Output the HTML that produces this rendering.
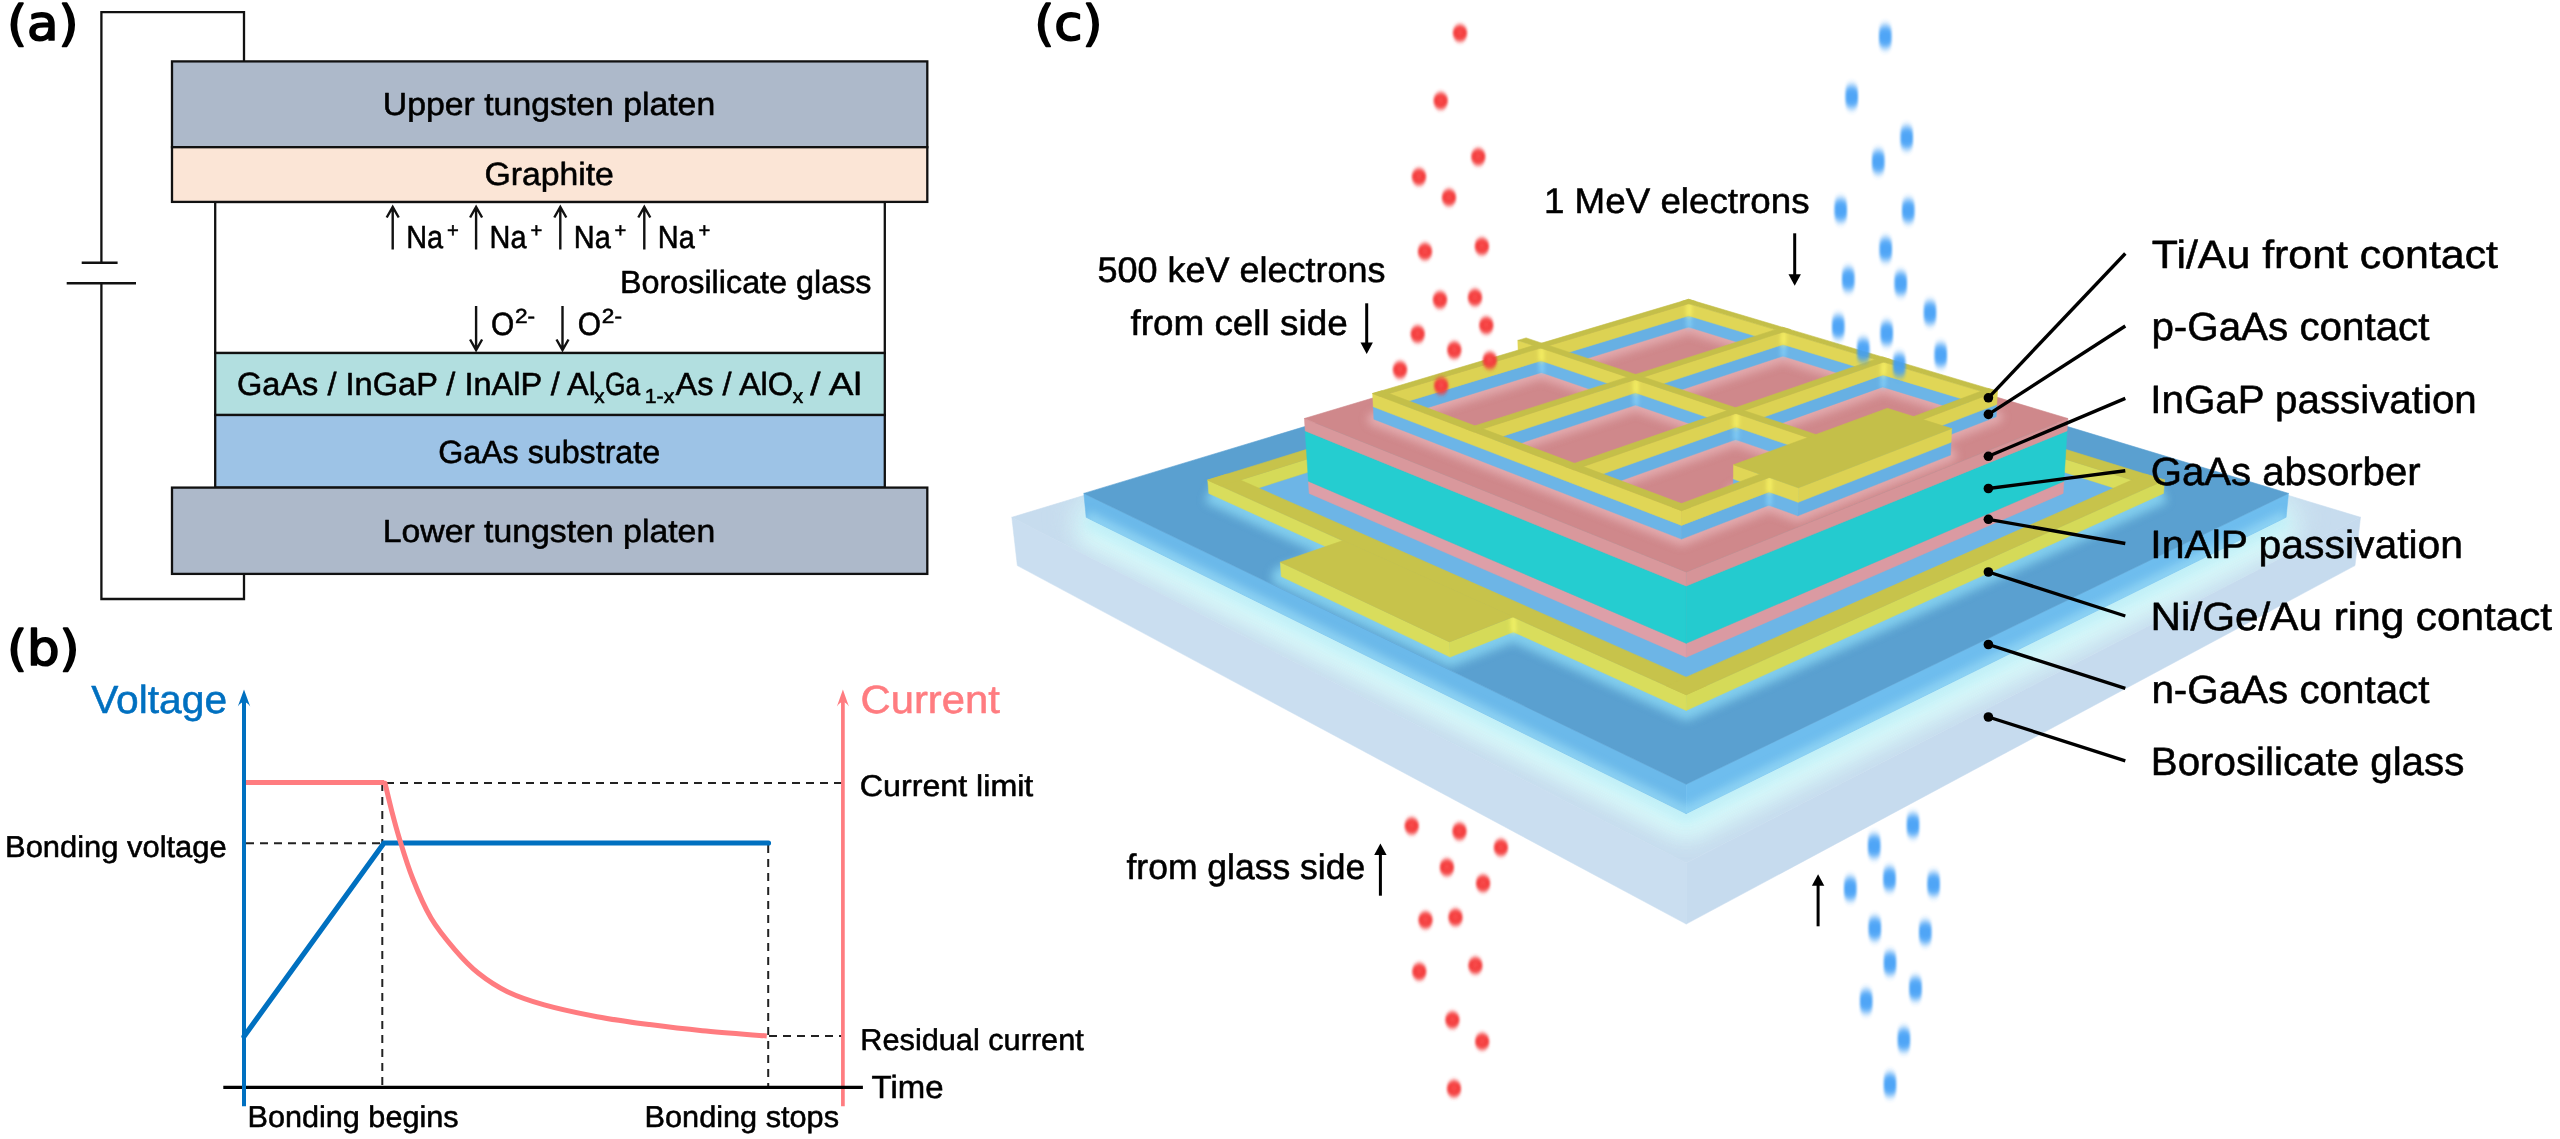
<!DOCTYPE html>
<html><head><meta charset="utf-8"><title>Figure</title>
<style>html,body{margin:0;padding:0;background:#fff}svg{display:block}text{text-rendering:geometricPrecision}</style></head>
<body><svg width="2560" height="1139" viewBox="0 0 2560 1139" style="will-change:transform">
<path d="M244,61 V12.2 H101.4 V262.7 M101.4,283.3 V599 H244 V574" fill="none" stroke="#111" stroke-width="2.3"/>
<path d="M81.7,262.7 H117.6 M66.7,283.3 H136" fill="none" stroke="#111" stroke-width="2.4"/>
<rect x="215.2" y="202" width="669.6" height="151" fill="#fff" stroke="#111" stroke-width="2.3"/>
<rect x="172" y="61.4" width="755.3" height="85.8" fill="#adb9ca" stroke="#111" stroke-width="2.3"/>
<rect x="172" y="147.2" width="755.3" height="54.7" fill="#fbe5d6" stroke="#111" stroke-width="2.3"/>
<rect x="215.2" y="353" width="669.6" height="62" fill="#b2dfe0" stroke="#111" stroke-width="2.3"/>
<rect x="215.2" y="415" width="669.6" height="72.6" fill="#9dc3e6" stroke="#111" stroke-width="2.3"/>
<rect x="172" y="487.6" width="755.3" height="86.3" fill="#adb9ca" stroke="#111" stroke-width="2.3"/>
<path d="M392.7,249.6 V207.5 M386.7,217.5 L392.7,207 L398.7,217.5" fill="none" stroke="#111" stroke-width="2.4"/>
<path d="M476.1,249.6 V207.5 M470.1,217.5 L476.1,207 L482.1,217.5" fill="none" stroke="#111" stroke-width="2.4"/>
<path d="M560.3,249.6 V207.5 M554.3,217.5 L560.3,207 L566.3,217.5" fill="none" stroke="#111" stroke-width="2.4"/>
<path d="M644.3,249.6 V207.5 M638.3,217.5 L644.3,207 L650.3,217.5" fill="none" stroke="#111" stroke-width="2.4"/>
<path d="M476.1,306 V349.5 M470.1,339.5 L476.1,350 L482.1,339.5" fill="none" stroke="#111" stroke-width="2.4"/>
<path d="M562.5,306 V349.5 M556.5,339.5 L562.5,350 L568.5,339.5" fill="none" stroke="#111" stroke-width="2.4"/>
<text transform="translate(6.93,40.20) scale(1.0604,1)" font-family="DejaVu Sans, sans-serif" font-size="48.50" font-weight="normal" fill="#000" stroke="#000" stroke-width="1.70" stroke-linejoin="round">(a)</text>
<text transform="translate(382.87,115.40) scale(1.0548,1)" font-family="Liberation Sans, sans-serif" font-size="32.03" font-weight="normal" fill="#000" stroke="#000" stroke-width="0.55" stroke-linejoin="round">Upper tungsten platen</text>
<text transform="translate(484.41,185.00) scale(1.0544,1)" font-family="Liberation Sans, sans-serif" font-size="32.03" font-weight="normal" fill="#000" stroke="#000" stroke-width="0.55" stroke-linejoin="round">Graphite</text>
<text transform="translate(620.01,293.00) scale(1.0094,1)" font-family="Liberation Sans, sans-serif" font-size="32.03" font-weight="normal" fill="#000" stroke="#000" stroke-width="0.55" stroke-linejoin="round">Borosilicate glass</text>
<text transform="translate(438.19,462.70) scale(1.0058,1)" font-family="Liberation Sans, sans-serif" font-size="32.03" font-weight="normal" fill="#000" stroke="#000" stroke-width="0.55" stroke-linejoin="round">GaAs substrate</text>
<text transform="translate(382.70,541.60) scale(1.0553,1)" font-family="Liberation Sans, sans-serif" font-size="32.03" font-weight="normal" fill="#000" stroke="#000" stroke-width="0.55" stroke-linejoin="round">Lower tungsten platen</text>
<text transform="translate(406.19,247.60) scale(0.9014,1)" font-family="Liberation Sans, sans-serif" font-size="32.03" font-weight="normal" fill="#000" stroke="#000" stroke-width="0.55" stroke-linejoin="round">Na</text>
<text transform="translate(446.99,237.00) scale(0.9959,1)" font-family="Liberation Sans, sans-serif" font-size="20.29" font-weight="normal" fill="#000" stroke="#000" stroke-width="0.55" stroke-linejoin="round">+</text>
<text transform="translate(489.59,247.60) scale(0.9014,1)" font-family="Liberation Sans, sans-serif" font-size="32.03" font-weight="normal" fill="#000" stroke="#000" stroke-width="0.55" stroke-linejoin="round">Na</text>
<text transform="translate(530.39,237.00) scale(0.9959,1)" font-family="Liberation Sans, sans-serif" font-size="20.29" font-weight="normal" fill="#000" stroke="#000" stroke-width="0.55" stroke-linejoin="round">+</text>
<text transform="translate(573.79,247.60) scale(0.9014,1)" font-family="Liberation Sans, sans-serif" font-size="32.03" font-weight="normal" fill="#000" stroke="#000" stroke-width="0.55" stroke-linejoin="round">Na</text>
<text transform="translate(614.59,237.00) scale(0.9959,1)" font-family="Liberation Sans, sans-serif" font-size="20.29" font-weight="normal" fill="#000" stroke="#000" stroke-width="0.55" stroke-linejoin="round">+</text>
<text transform="translate(657.79,247.60) scale(0.9014,1)" font-family="Liberation Sans, sans-serif" font-size="32.03" font-weight="normal" fill="#000" stroke="#000" stroke-width="0.55" stroke-linejoin="round">Na</text>
<text transform="translate(698.59,237.00) scale(0.9959,1)" font-family="Liberation Sans, sans-serif" font-size="20.29" font-weight="normal" fill="#000" stroke="#000" stroke-width="0.55" stroke-linejoin="round">+</text>
<text transform="translate(490.95,335.40) scale(0.9344,1)" font-family="Liberation Sans, sans-serif" font-size="32.03" font-weight="normal" fill="#000" stroke="#000" stroke-width="0.55" stroke-linejoin="round">O</text>
<text transform="translate(514.97,323.30) scale(1.1159,1)" font-family="Liberation Sans, sans-serif" font-size="20.29" font-weight="normal" fill="#000" stroke="#000" stroke-width="0.55" stroke-linejoin="round">2-</text>
<text transform="translate(577.85,335.40) scale(0.9344,1)" font-family="Liberation Sans, sans-serif" font-size="32.03" font-weight="normal" fill="#000" stroke="#000" stroke-width="0.55" stroke-linejoin="round">O</text>
<text transform="translate(601.87,323.30) scale(1.1159,1)" font-family="Liberation Sans, sans-serif" font-size="20.29" font-weight="normal" fill="#000" stroke="#000" stroke-width="0.55" stroke-linejoin="round">2-</text>
<text transform="translate(236.97,395.20) scale(1.0170,1)" font-family="Liberation Sans, sans-serif" font-size="32.03" font-weight="normal" fill="#000" stroke="#000" stroke-width="0.55" stroke-linejoin="round">GaAs / InGaP / InAlP / Al</text>
<text transform="translate(594.29,402.50) scale(1.0165,1)" font-family="Liberation Sans, sans-serif" font-size="20.29" font-weight="normal" fill="#000" stroke="#000" stroke-width="0.55" stroke-linejoin="round">x</text>
<text transform="translate(605.08,395.20) scale(0.8237,1)" font-family="Liberation Sans, sans-serif" font-size="32.03" font-weight="normal" fill="#000" stroke="#000" stroke-width="0.55" stroke-linejoin="round">Ga</text>
<text transform="translate(644.70,402.50) scale(1.0499,1)" font-family="Liberation Sans, sans-serif" font-size="20.29" font-weight="normal" fill="#000" stroke="#000" stroke-width="0.55" stroke-linejoin="round">1-x</text>
<text transform="translate(675.50,395.20) scale(1.0177,1)" font-family="Liberation Sans, sans-serif" font-size="32.03" font-weight="normal" fill="#000" stroke="#000" stroke-width="0.55" stroke-linejoin="round">As / AlO</text>
<text transform="translate(792.79,402.50) scale(1.0268,1)" font-family="Liberation Sans, sans-serif" font-size="20.29" font-weight="normal" fill="#000" stroke="#000" stroke-width="0.55" stroke-linejoin="round">x</text>
<text transform="translate(810.30,395.20) scale(1.1570,1)" font-family="Liberation Sans, sans-serif" font-size="32.03" font-weight="normal" fill="#000" stroke="#000" stroke-width="0.55" stroke-linejoin="round">/ Al</text>
<path d="M386,783 H842" stroke="#222" stroke-width="2" stroke-dasharray="8 6" fill="none"/>
<path d="M246,843.2 H384" stroke="#222" stroke-width="2" stroke-dasharray="8 6" fill="none"/>
<path d="M382.3,783 V1087" stroke="#222" stroke-width="2" stroke-dasharray="8 6" fill="none"/>
<path d="M768.2,845 V1087" stroke="#222" stroke-width="2" stroke-dasharray="8 6" fill="none"/>
<path d="M769,1036 H842" stroke="#222" stroke-width="2" stroke-dasharray="8 6" fill="none"/>
<path d="M842.9,1106.3 V700" stroke="#ff7c80" stroke-width="3.7" fill="none"/>
<path d="M842.9,689.5 L848.9,706.5 Q842.9,697.5 836.9,706.5 Z" fill="#ff7c80"/>
<path d="M223.3,1087.4 H862.9" stroke="#000" stroke-width="3.2" fill="none"/>
<path d="M244,1036.4 L384,843 H768.5" stroke="#0070c0" stroke-width="5.2" fill="none" stroke-linejoin="miter" stroke-linecap="round"/>
<path d="M244,782.5 H384" stroke="#ff7c80" stroke-width="5" fill="none"/>
<path d="M383,783 L385,783.2 C386.2,788.0 389.6,802.7 392.0,812.0 C394.4,821.3 396.1,827.9 399.5,839.0 C402.9,850.1 407.4,865.3 412.7,878.5 C417.9,891.7 424.0,906.1 431.0,918.0 C438.0,929.9 446.9,940.4 454.8,949.6 C462.7,958.8 469.7,966.3 478.5,973.3 C487.3,980.3 496.4,986.4 507.4,991.7 C518.4,997.0 529.4,1000.7 544.3,1004.9 C559.2,1009.1 579.5,1013.4 597.0,1016.7 C614.5,1020.0 632.1,1022.3 649.6,1024.6 C667.1,1026.9 682.8,1028.8 702.3,1030.7 C721.8,1032.6 756.0,1035.1 766.8,1036.0" stroke="#ff7c80" stroke-width="5" fill="none" stroke-linejoin="round" stroke-linecap="butt"/>
<path d="M244,1106.3 V700" stroke="#0070c0" stroke-width="4" fill="none"/>
<path d="M244,689.5 L250.2,706.5 Q244,697.5 237.8,706.5 Z" fill="#0070c0"/>
<text transform="translate(6.93,665.30) scale(1.0599,1)" font-family="DejaVu Sans, sans-serif" font-size="48.50" font-weight="normal" fill="#000" stroke="#000" stroke-width="1.70" stroke-linejoin="round">(b)</text>
<text transform="translate(91.20,713.40) scale(1.0371,1)" font-family="Liberation Sans, sans-serif" font-size="39.28" font-weight="normal" fill="#0070c0" stroke="#0070c0" stroke-width="0.55" stroke-linejoin="round">Voltage</text>
<text transform="translate(860.51,713.40) scale(1.0643,1)" font-family="Liberation Sans, sans-serif" font-size="39.28" font-weight="normal" fill="#ff7c80" stroke="#ff7c80" stroke-width="0.55" stroke-linejoin="round">Current</text>
<text transform="translate(5.03,856.50) scale(1.0300,1)" font-family="Liberation Sans, sans-serif" font-size="30.00" font-weight="normal" fill="#000" stroke="#000" stroke-width="0.55" stroke-linejoin="round">Bonding voltage</text>
<text transform="translate(859.79,795.70) scale(1.0732,1)" font-family="Liberation Sans, sans-serif" font-size="30.00" font-weight="normal" fill="#000" stroke="#000" stroke-width="0.55" stroke-linejoin="round">Current limit</text>
<text transform="translate(860.34,1049.80) scale(1.0229,1)" font-family="Liberation Sans, sans-serif" font-size="30.00" font-weight="normal" fill="#000" stroke="#000" stroke-width="0.55" stroke-linejoin="round">Residual current</text>
<text transform="translate(871.54,1098.10) scale(1.0280,1)" font-family="Liberation Sans, sans-serif" font-size="32.03" font-weight="normal" fill="#000" stroke="#000" stroke-width="0.55" stroke-linejoin="round">Time</text>
<text transform="translate(247.55,1126.70) scale(1.0202,1)" font-family="Liberation Sans, sans-serif" font-size="30.00" font-weight="normal" fill="#000" stroke="#000" stroke-width="0.55" stroke-linejoin="round">Bonding begins</text>
<text transform="translate(644.55,1126.70) scale(1.0228,1)" font-family="Liberation Sans, sans-serif" font-size="30.00" font-weight="normal" fill="#000" stroke="#000" stroke-width="0.55" stroke-linejoin="round">Bonding stops</text>
<defs><filter id="b2" x="-20%" y="-20%" width="140%" height="140%"><feGaussianBlur stdDeviation="2"/></filter><filter id="b3" x="-20%" y="-20%" width="140%" height="140%"><feGaussianBlur stdDeviation="3"/></filter><filter id="b4" x="-20%" y="-20%" width="140%" height="140%"><feGaussianBlur stdDeviation="4"/></filter><filter id="b5" x="-20%" y="-20%" width="140%" height="140%"><feGaussianBlur stdDeviation="5"/></filter><filter id="b6" x="-20%" y="-20%" width="140%" height="140%"><feGaussianBlur stdDeviation="6"/></filter><filter id="b7" x="-20%" y="-20%" width="140%" height="140%"><feGaussianBlur stdDeviation="7"/></filter><filter id="b8" x="-20%" y="-20%" width="140%" height="140%"><feGaussianBlur stdDeviation="8"/></filter><filter id="b9" x="-20%" y="-20%" width="140%" height="140%"><feGaussianBlur stdDeviation="9"/></filter><filter id="b10" x="-20%" y="-20%" width="140%" height="140%"><feGaussianBlur stdDeviation="10"/></filter><filter id="b11" x="-20%" y="-20%" width="140%" height="140%"><feGaussianBlur stdDeviation="11"/></filter><filter id="b12" x="-20%" y="-20%" width="140%" height="140%"><feGaussianBlur stdDeviation="12"/></filter><filter id="b13" x="-20%" y="-20%" width="140%" height="140%"><feGaussianBlur stdDeviation="13"/></filter></defs>
<polygon points="1011.8,517.3 1686.2,863.1 1686.2,924.1 1017.3,565.6" fill="#cadef0" stroke="#cadef0" stroke-width="0.5"/>
<polygon points="1686.2,863.1 2360.5,517.3 2355.0,565.6 1686.2,924.1" fill="#c6dbee" stroke="#c6dbee" stroke-width="0.5"/>
<polygon points="1011.8,517.3 1686.2,863.1 2360.5,517.3 1686.2,312.9" fill="#c7dcee" stroke="#c7dcee" stroke-width="0.6"/>
<clipPath id="cp1"><polygon points="1011.8,517.3 1686.2,863.1 2360.5,517.3 1686.2,312.9"/></clipPath><g clip-path="url(#cp1)"><g filter="url(#b12)" opacity="0.55"><polygon points="1086.2,517.3 1686.2,813.6 2286.1,517.3 1686.2,331.2" fill="none" stroke="#d6f3f8" stroke-width="40" stroke-linejoin="round"/></g><g filter="url(#b11)" opacity="0.95"><polyline points="1086.2,517.3 1686.2,813.6 2286.1,517.3" fill="none" stroke="#d9fafa" stroke-width="52" stroke-linejoin="round"/></g><g filter="url(#b6)" opacity="0.9"><polyline points="1086.2,517.3 1686.2,813.6 2286.1,517.3" fill="none" stroke="#bdeef7" stroke-width="20" stroke-linejoin="round"/></g></g>
<polygon points="1083.8,493.4 1686.2,784.2 1686.2,813.6 1086.2,517.3" fill="#6bb9ea" stroke="#6bb9ea" stroke-width="0.5"/>
<polygon points="1686.2,784.2 2288.5,493.4 2286.1,517.3 1686.2,813.6" fill="#6ebdee" stroke="#6ebdee" stroke-width="0.5"/>
<polygon points="1083.8,493.4 1686.2,784.2 2288.5,493.4 1686.2,311.2" fill="#5aa0d0" stroke="#5aa0d0" stroke-width="0.6"/>
<clipPath id="cp2"><polygon points="1083.8,493.4 1686.2,784.2 1686.2,813.6 1086.2,517.3"/><polygon points="1686.2,784.2 2288.5,493.4 2286.1,517.3 1686.2,813.6"/></clipPath><g clip-path="url(#cp2)"><g filter="url(#b4)" opacity="0.7"><polyline points="1086.2,517.3 1686.2,813.6 2286.1,517.3" fill="none" stroke="#9bdcf6" stroke-width="14" stroke-linejoin="round"/></g></g>
<clipPath id="cp3"><polygon points="1083.8,493.4 1686.2,784.2 2288.5,493.4 1686.2,311.2"/></clipPath><g clip-path="url(#cp3)"><polygon points="1241.3,493.4 1686.2,692.7 2131.0,493.4 1686.2,352.0" fill="#6db5e6" /><g filter="url(#b5)" opacity="0.95"><polyline points="1208.8,493.4 1343.6,554.7 1281.3,576.5 1450.2,657.1 1513.4,631.9 1686.2,710.5 2163.5,493.4" fill="none" stroke="#84d0ef" stroke-width="19" stroke-linejoin="round"/></g></g>
<polygon points="1686.2,340.3 2132.0,480.1 2131.0,493.4 1686.2,352.0" fill="#d9dd5c" stroke="#d9dd5c" stroke-width="0.5"/>
<polygon points="1240.3,480.1 1686.2,340.3 1686.2,352.0 1241.3,493.4" fill="#d5da58" stroke="#d5da58" stroke-width="0.5"/>
<polygon points="1207.7,480.1 1342.8,540.7 1343.6,554.7 1208.8,493.4" fill="#d9dd5c" stroke="#d9dd5c" stroke-width="0.5"/>
<polygon points="1686.2,694.7 2164.6,480.1 2163.5,493.4 1686.2,710.5" fill="#d5da58" stroke="#d5da58" stroke-width="0.5"/>
<polygon points="1280.3,562.2 1449.5,641.9 1450.2,657.1 1281.3,576.5" fill="#d9dd5c" stroke="#d9dd5c" stroke-width="0.5"/>
<polygon points="1449.5,641.9 1512.9,617.0 1513.4,631.9 1450.2,657.1" fill="#d5da58" stroke="#d5da58" stroke-width="0.5"/>
<polygon points="1512.9,617.0 1686.2,694.7 1686.2,710.5 1513.4,631.9" fill="#d9dd5c" stroke="#d9dd5c" stroke-width="0.5"/>
<g filter="url(#b2)" opacity="0.9"><path d="M1686.5,341.8 L1686.5,351.0" stroke="#f6f566" stroke-width="5" stroke-linecap="round" fill="none"/><path d="M1513.2,618.5 L1513.7,630.9" stroke="#f6f566" stroke-width="5" stroke-linecap="round" fill="none"/></g>
<polygon points="1207.7,480.1 1686.2,694.7 1705.9,685.9 1226.9,474.1" fill="#c7c34b" stroke="#c7c34b" stroke-width="0.6"/>
<polygon points="1672.3,335.9 2151.2,486.1 2164.6,480.1 1686.2,331.6" fill="#c7c34b" stroke="#c7c34b" stroke-width="0.6"/>
<polygon points="1207.7,480.1 1221.1,486.1 1700.0,335.9 1686.2,331.6" fill="#c7c34b" stroke="#c7c34b" stroke-width="0.6"/>
<polygon points="1666.4,685.9 1686.2,694.7 2164.6,480.1 2145.4,474.1" fill="#c7c34b" stroke="#c7c34b" stroke-width="0.6"/>
<polygon points="1280.3,562.2 1449.5,641.9 1513.3,616.8 1343.2,540.5" fill="#c7c34b" stroke="#c7c34b" stroke-width="0.6"/>
<polygon points="1308.4,481.2 1686.2,643.3 1686.2,657.2 1309.2,493.4" fill="#dd9fa8" stroke="#dd9fa8" stroke-width="0.5"/>
<polygon points="1686.2,643.3 2063.9,481.2 2063.1,493.4 1686.2,657.2" fill="#da9aa2" stroke="#da9aa2" stroke-width="0.5"/>
<polygon points="1308.4,481.2 1686.2,643.3 2063.9,481.2 1686.2,359.9" fill="#d9989f" stroke="#d9989f" stroke-width="0.6"/>
<polygon points="1305.2,430.9 1686.2,586.0 1686.2,643.3 1308.4,481.2" fill="#25cdd0" stroke="#25cdd0" stroke-width="0.5"/>
<polygon points="1686.2,586.0 2067.1,430.9 2063.9,481.2 1686.2,643.3" fill="#24cbcf" stroke="#24cbcf" stroke-width="0.5"/>
<polygon points="1305.2,430.9 1686.2,586.0 2067.1,430.9 1686.2,315.1" fill="#25cdd0" stroke="#25cdd0" stroke-width="0.6"/>
<polygon points="1304.4,418.5 1686.2,571.9 1686.2,586.0 1305.2,430.9" fill="#d9989c" stroke="#d9989c" stroke-width="0.5"/>
<polygon points="1686.2,571.9 2067.9,418.5 2067.1,430.9 1686.2,586.0" fill="#d69498" stroke="#d69498" stroke-width="0.5"/>
<polygon points="1304.4,418.5 1686.2,571.9 2067.9,418.5 1686.2,304.0" fill="#cf888b" stroke="#cf888b" stroke-width="0.6"/>
<clipPath id="cp4"><polygon points="1304.4,418.5 1686.2,571.9 2067.9,418.5 1686.2,304.0"/></clipPath><g clip-path="url(#cp4)"><g filter="url(#b4)" opacity="0.9"><polygon points="1373.9,419.2 1681.5,539.1 1690.8,535.5 1383.1,416.4" fill="none" stroke="#e4adb1" stroke-width="13" stroke-linejoin="round"/><polygon points="1681.2,324.8 1988.9,419.6 1996.2,416.8 1688.6,322.5" fill="none" stroke="#e4adb1" stroke-width="13" stroke-linejoin="round"/><polygon points="1373.9,419.2 1381.2,422.0 1696.0,324.8 1688.6,322.5" fill="none" stroke="#e4adb1" stroke-width="13" stroke-linejoin="round"/><polygon points="1672.2,535.5 1681.5,539.1 1996.2,416.8 1987.0,414.0" fill="none" stroke="#e4adb1" stroke-width="13" stroke-linejoin="round"/><polygon points="1466.7,455.4 1474.5,458.4 1790.2,353.7 1782.3,351.3" fill="none" stroke="#e4adb1" stroke-width="13" stroke-linejoin="round"/><polygon points="1565.8,494.0 1574.3,497.3 1890.0,384.3 1881.5,381.7" fill="none" stroke="#e4adb1" stroke-width="13" stroke-linejoin="round"/><polygon points="1518.5,364.7 1809.8,465.2 1818.1,462.0 1526.7,362.2" fill="none" stroke="#e4adb1" stroke-width="13" stroke-linejoin="round"/><polygon points="1733.3,492.2 1797.8,515.8 1950.5,455.1 1886.4,434.3" fill="none" stroke="#e4adb1" stroke-width="13" stroke-linejoin="round"/></g></g>
<polygon points="1688.6,315.8 1775.1,342.1 1774.9,353.7 1688.6,327.1" fill="#6cb5e7" stroke="#6cb5e7" stroke-width="0.5"/>
<polygon points="1549.3,358.2 1688.6,315.8 1688.6,327.1 1549.6,370.0" fill="#67b0e3" stroke="#67b0e3" stroke-width="0.5"/>
<polygon points="1518.2,353.0 1533.7,358.2 1534.0,370.0 1518.5,364.7" fill="#6cb5e7" stroke="#6cb5e7" stroke-width="0.5"/>
<polygon points="1783.0,344.5 1874.5,372.3 1874.1,384.3 1782.8,356.1" fill="#6cb5e7" stroke="#6cb5e7" stroke-width="0.5"/>
<polygon points="1643.6,390.1 1783.0,344.5 1782.8,356.1 1643.7,402.3" fill="#67b0e3" stroke="#67b0e3" stroke-width="0.5"/>
<polygon points="1541.1,360.8 1627.4,390.1 1627.6,402.3 1541.4,372.5" fill="#6cb5e7" stroke="#6cb5e7" stroke-width="0.5"/>
<polygon points="1389.8,406.8 1541.1,360.8 1541.4,372.5 1390.4,419.2" fill="#67b0e3" stroke="#67b0e3" stroke-width="0.5"/>
<polygon points="1883.0,374.9 1980.4,404.5 1979.8,416.8 1882.7,386.9" fill="#6cb5e7" stroke="#6cb5e7" stroke-width="0.5"/>
<polygon points="1744.0,424.1 1883.0,374.9 1882.7,386.9 1743.9,436.6" fill="#67b0e3" stroke="#67b0e3" stroke-width="0.5"/>
<polygon points="1635.4,392.8 1727.2,424.1 1727.1,436.6 1635.5,405.0" fill="#6cb5e7" stroke="#6cb5e7" stroke-width="0.5"/>
<polygon points="1483.4,442.6 1635.4,392.8 1635.5,405.0 1483.8,455.4" fill="#67b0e3" stroke="#67b0e3" stroke-width="0.5"/>
<polygon points="1922.2,433.1 1996.8,404.5 1996.2,416.8 1921.7,445.8" fill="#67b0e3" stroke="#67b0e3" stroke-width="0.5"/>
<polygon points="1735.7,427.0 1807.5,451.4 1807.2,464.2 1735.6,439.6" fill="#6cb5e7" stroke="#6cb5e7" stroke-width="0.5"/>
<polygon points="1583.4,480.8 1735.7,427.0 1735.6,439.6 1583.6,494.0" fill="#67b0e3" stroke="#67b0e3" stroke-width="0.5"/>
<polygon points="1373.3,406.8 1681.5,525.4 1681.5,539.1 1373.9,419.2" fill="#6cb5e7" stroke="#6cb5e7" stroke-width="0.5"/>
<polygon points="1798.1,502.3 1951.1,442.3 1950.5,455.1 1797.8,515.8" fill="#67b0e3" stroke="#67b0e3" stroke-width="0.5"/>
<polygon points="1733.4,479.0 1759.7,488.5 1759.6,501.8 1733.3,492.2" fill="#6cb5e7" stroke="#6cb5e7" stroke-width="0.5"/>
<polygon points="1769.0,491.9 1798.1,502.3 1797.8,515.8 1768.8,505.2" fill="#6cb5e7" stroke="#6cb5e7" stroke-width="0.5"/>
<polygon points="1681.5,525.4 1769.0,491.9 1768.8,505.2 1681.5,539.1" fill="#67b0e3" stroke="#67b0e3" stroke-width="0.5"/>
<g filter="url(#b2)" opacity="0.8"><path d="M1688.9,317.3 L1688.9,326.1" stroke="#86d2fa" stroke-width="5" stroke-linecap="round" fill="none"/><path d="M1783.3,346.0 L1783.1,355.1" stroke="#86d2fa" stroke-width="5" stroke-linecap="round" fill="none"/><path d="M1541.4,362.3 L1541.7,371.5" stroke="#86d2fa" stroke-width="5" stroke-linecap="round" fill="none"/><path d="M1883.3,376.4 L1883.0,385.9" stroke="#86d2fa" stroke-width="5" stroke-linecap="round" fill="none"/><path d="M1635.7,394.3 L1635.8,404.0" stroke="#86d2fa" stroke-width="5" stroke-linecap="round" fill="none"/><path d="M1736.0,428.5 L1735.9,438.6" stroke="#86d2fa" stroke-width="5" stroke-linecap="round" fill="none"/><path d="M1769.3,493.4 L1769.1,504.2" stroke="#86d2fa" stroke-width="5" stroke-linecap="round" fill="none"/></g>
<polygon points="1373.3,406.8 1681.5,525.4 1690.8,521.9 1382.5,404.0" fill="#6ab5e8" stroke="#6ab5e8" stroke-width="0.6"/>
<polygon points="1681.2,313.6 1989.6,407.3 1996.8,404.5 1688.6,311.3" fill="#6ab5e8" stroke="#6ab5e8" stroke-width="0.6"/>
<polygon points="1373.3,406.8 1380.6,409.6 1696.0,313.6 1688.6,311.3" fill="#6ab5e8" stroke="#6ab5e8" stroke-width="0.6"/>
<polygon points="1672.2,521.9 1681.5,525.4 1996.8,404.5 1987.7,401.7" fill="#6ab5e8" stroke="#6ab5e8" stroke-width="0.6"/>
<polygon points="1466.2,442.6 1474.1,445.6 1790.4,342.1 1782.5,339.7" fill="#6ab5e8" stroke="#6ab5e8" stroke-width="0.6"/>
<polygon points="1565.5,480.8 1574.0,484.1 1890.4,372.3 1881.9,369.8" fill="#6ab5e8" stroke="#6ab5e8" stroke-width="0.6"/>
<polygon points="1518.2,353.0 1810.1,452.3 1818.3,449.2 1526.4,350.5" fill="#6ab5e8" stroke="#6ab5e8" stroke-width="0.6"/>
<polygon points="1733.4,479.0 1798.1,502.3 1951.1,442.3 1886.8,421.8" fill="#6ab5e8" stroke="#6ab5e8" stroke-width="0.6"/>
<polygon points="1688.6,303.7 1775.3,329.6 1775.1,342.1 1688.6,315.8" fill="#e0d656" stroke="#e0d656" stroke-width="0.5"/>
<polygon points="1549.0,345.6 1688.6,303.7 1688.6,315.8 1549.3,358.2" fill="#dcd253" stroke="#dcd253" stroke-width="0.5"/>
<polygon points="1517.8,340.4 1533.4,345.6 1533.7,358.2 1518.2,353.0" fill="#e0d656" stroke="#e0d656" stroke-width="0.5"/>
<polygon points="1783.2,332.0 1874.9,359.5 1874.5,372.3 1783.0,344.5" fill="#e0d656" stroke="#e0d656" stroke-width="0.5"/>
<polygon points="1643.6,377.0 1783.2,332.0 1783.0,344.5 1643.6,390.1" fill="#dcd253" stroke="#dcd253" stroke-width="0.5"/>
<polygon points="1540.8,348.0 1627.3,377.0 1627.4,390.1 1541.1,360.8" fill="#e0d656" stroke="#e0d656" stroke-width="0.5"/>
<polygon points="1389.1,393.5 1540.8,348.0 1541.1,360.8 1389.8,406.8" fill="#dcd253" stroke="#dcd253" stroke-width="0.5"/>
<polygon points="1883.5,362.0 1981.0,391.2 1980.4,404.5 1883.0,374.9" fill="#e0d656" stroke="#e0d656" stroke-width="0.5"/>
<polygon points="1744.1,410.5 1883.5,362.0 1883.0,374.9 1744.0,424.1" fill="#dcd253" stroke="#dcd253" stroke-width="0.5"/>
<polygon points="1635.3,379.7 1727.2,410.5 1727.2,424.1 1635.4,392.8" fill="#e0d656" stroke="#e0d656" stroke-width="0.5"/>
<polygon points="1482.9,428.8 1635.3,379.7 1635.4,392.8 1483.4,442.6" fill="#dcd253" stroke="#dcd253" stroke-width="0.5"/>
<polygon points="1922.8,419.5 1997.5,391.2 1996.8,404.5 1922.2,433.1" fill="#dcd253" stroke="#dcd253" stroke-width="0.5"/>
<polygon points="1735.8,413.4 1807.7,437.5 1807.5,451.4 1735.7,427.0" fill="#e0d656" stroke="#e0d656" stroke-width="0.5"/>
<polygon points="1583.1,466.6 1735.8,413.4 1735.7,427.0 1583.4,480.8" fill="#dcd253" stroke="#dcd253" stroke-width="0.5"/>
<polygon points="1372.6,393.5 1681.5,510.6 1681.5,525.4 1373.3,406.8" fill="#e0d656" stroke="#e0d656" stroke-width="0.5"/>
<polygon points="1798.4,487.8 1951.7,428.6 1951.1,442.3 1798.1,502.3" fill="#dcd253" stroke="#dcd253" stroke-width="0.5"/>
<polygon points="1733.5,464.8 1759.9,474.2 1759.7,488.5 1733.4,479.0" fill="#e0d656" stroke="#e0d656" stroke-width="0.5"/>
<polygon points="1769.2,477.5 1798.4,487.8 1798.1,502.3 1769.0,491.9" fill="#e0d656" stroke="#e0d656" stroke-width="0.5"/>
<polygon points="1681.5,510.6 1769.2,477.5 1769.0,491.9 1681.5,525.4" fill="#dcd253" stroke="#dcd253" stroke-width="0.5"/>
<g filter="url(#b2)" opacity="0.95"><path d="M1688.9,305.2 L1688.9,314.8" stroke="#f8f265" stroke-width="5" stroke-linecap="round" fill="none"/><path d="M1783.5,333.5 L1783.3,343.5" stroke="#f8f265" stroke-width="5" stroke-linecap="round" fill="none"/><path d="M1541.1,349.5 L1541.4,359.8" stroke="#f8f265" stroke-width="5" stroke-linecap="round" fill="none"/><path d="M1883.8,363.5 L1883.3,373.9" stroke="#f8f265" stroke-width="5" stroke-linecap="round" fill="none"/><path d="M1635.6,381.2 L1635.7,391.8" stroke="#f8f265" stroke-width="5" stroke-linecap="round" fill="none"/><path d="M1736.1,414.9 L1736.0,426.0" stroke="#f8f265" stroke-width="5" stroke-linecap="round" fill="none"/><path d="M1769.5,479.0 L1769.3,490.9" stroke="#f8f265" stroke-width="5" stroke-linecap="round" fill="none"/></g>
<polygon points="1372.6,393.5 1681.5,510.6 1690.8,507.1 1381.8,390.8" fill="#c4bf49" stroke="#c4bf49" stroke-width="0.6"/>
<polygon points="1681.2,301.5 1990.2,394.0 1997.5,391.2 1688.6,299.3" fill="#c4bf49" stroke="#c4bf49" stroke-width="0.6"/>
<polygon points="1372.6,393.5 1379.9,396.3 1696.0,301.5 1688.6,299.3" fill="#c4bf49" stroke="#c4bf49" stroke-width="0.6"/>
<polygon points="1672.1,507.1 1681.5,510.6 1997.5,391.2 1988.3,388.5" fill="#c4bf49" stroke="#c4bf49" stroke-width="0.6"/>
<polygon points="1465.7,428.8 1473.6,431.8 1790.6,329.6 1782.7,327.3" fill="#c4bf49" stroke="#c4bf49" stroke-width="0.6"/>
<polygon points="1565.2,466.6 1573.8,469.8 1890.8,359.5 1882.3,356.9" fill="#c4bf49" stroke="#c4bf49" stroke-width="0.6"/>
<polygon points="1517.8,340.4 1810.4,438.4 1818.6,435.4 1526.1,337.9" fill="#c4bf49" stroke="#c4bf49" stroke-width="0.6"/>
<polygon points="1733.5,464.8 1798.4,487.8 1951.7,428.6 1887.3,408.3" fill="#c4bf49" stroke="#c4bf49" stroke-width="0.6"/>
<defs>
<radialGradient id="rg" cx="0.5" cy="0.45" r="0.5"><stop offset="0" stop-color="#fb5252"/><stop offset="0.6" stop-color="#f33b3b"/><stop offset="1" stop-color="#f23a3a" stop-opacity="0.9"/></radialGradient>
<filter id="fr" x="-50%" y="-50%" width="200%" height="200%"><feGaussianBlur stdDeviation="0.8 1.9"/></filter>
<filter id="fb" x="-50%" y="-50%" width="200%" height="200%"><feGaussianBlur stdDeviation="1.2 3.6"/></filter>
</defs>
<ellipse cx="1460.0" cy="33.1" rx="7.3" ry="8.6" fill="url(#rg)" filter="url(#fr)"/>
<ellipse cx="1440.7" cy="100.8" rx="7.3" ry="8.6" fill="url(#rg)" filter="url(#fr)"/>
<ellipse cx="1478.3" cy="156.8" rx="7.3" ry="8.6" fill="url(#rg)" filter="url(#fr)"/>
<ellipse cx="1419.0" cy="176.8" rx="7.3" ry="8.6" fill="url(#rg)" filter="url(#fr)"/>
<ellipse cx="1449.0" cy="197.5" rx="7.3" ry="8.6" fill="url(#rg)" filter="url(#fr)"/>
<ellipse cx="1425.0" cy="251.5" rx="7.3" ry="8.6" fill="url(#rg)" filter="url(#fr)"/>
<ellipse cx="1481.9" cy="246.3" rx="7.3" ry="8.6" fill="url(#rg)" filter="url(#fr)"/>
<ellipse cx="1440.0" cy="299.8" rx="7.3" ry="8.6" fill="url(#rg)" filter="url(#fr)"/>
<ellipse cx="1475.0" cy="297.5" rx="7.3" ry="8.6" fill="url(#rg)" filter="url(#fr)"/>
<ellipse cx="1417.7" cy="334.1" rx="7.3" ry="8.6" fill="url(#rg)" filter="url(#fr)"/>
<ellipse cx="1454.3" cy="350.1" rx="7.3" ry="8.6" fill="url(#rg)" filter="url(#fr)"/>
<ellipse cx="1400.0" cy="369.8" rx="7.3" ry="8.6" fill="url(#rg)" filter="url(#fr)"/>
<ellipse cx="1486.3" cy="325.3" rx="7.3" ry="8.6" fill="url(#rg)" filter="url(#fr)"/>
<ellipse cx="1489.8" cy="360.4" rx="7.3" ry="8.6" fill="url(#rg)" filter="url(#fr)"/>
<ellipse cx="1441.2" cy="385.8" rx="7.3" ry="8.6" fill="url(#rg)" filter="url(#fr)"/>
<ellipse cx="1411.7" cy="826.0" rx="7.3" ry="8.6" fill="url(#rg)" filter="url(#fr)"/>
<ellipse cx="1459.5" cy="831.3" rx="7.3" ry="8.6" fill="url(#rg)" filter="url(#fr)"/>
<ellipse cx="1500.9" cy="847.5" rx="7.3" ry="8.6" fill="url(#rg)" filter="url(#fr)"/>
<ellipse cx="1446.9" cy="867.4" rx="7.3" ry="8.6" fill="url(#rg)" filter="url(#fr)"/>
<ellipse cx="1483.1" cy="883.4" rx="7.3" ry="8.6" fill="url(#rg)" filter="url(#fr)"/>
<ellipse cx="1425.5" cy="920.1" rx="7.3" ry="8.6" fill="url(#rg)" filter="url(#fr)"/>
<ellipse cx="1455.5" cy="917.4" rx="7.3" ry="8.6" fill="url(#rg)" filter="url(#fr)"/>
<ellipse cx="1419.3" cy="971.6" rx="7.3" ry="8.6" fill="url(#rg)" filter="url(#fr)"/>
<ellipse cx="1475.4" cy="965.5" rx="7.3" ry="8.6" fill="url(#rg)" filter="url(#fr)"/>
<ellipse cx="1452.4" cy="1020.0" rx="7.3" ry="8.6" fill="url(#rg)" filter="url(#fr)"/>
<ellipse cx="1482.2" cy="1041.5" rx="7.3" ry="8.6" fill="url(#rg)" filter="url(#fr)"/>
<ellipse cx="1454.0" cy="1088.7" rx="7.3" ry="8.6" fill="url(#rg)" filter="url(#fr)"/>
<rect x="1879.0" y="25.2" width="12.6" height="23" rx="6.3" fill="#409ef6" opacity="0.92" filter="url(#fb)"/>
<rect x="1845.4" y="85.2" width="12.6" height="23" rx="6.3" fill="#409ef6" opacity="0.92" filter="url(#fb)"/>
<rect x="1900.4" y="126.2" width="12.6" height="23" rx="6.3" fill="#409ef6" opacity="0.92" filter="url(#fb)"/>
<rect x="1872.0" y="150.2" width="12.6" height="23" rx="6.3" fill="#409ef6" opacity="0.92" filter="url(#fb)"/>
<rect x="1834.4" y="198.5" width="12.6" height="23" rx="6.3" fill="#409ef6" opacity="0.92" filter="url(#fb)"/>
<rect x="1902.0" y="199.2" width="12.6" height="23" rx="6.3" fill="#409ef6" opacity="0.92" filter="url(#fb)"/>
<rect x="1879.4" y="237.8" width="12.6" height="23" rx="6.3" fill="#409ef6" opacity="0.92" filter="url(#fb)"/>
<rect x="1842.0" y="267.8" width="12.6" height="23" rx="6.3" fill="#409ef6" opacity="0.92" filter="url(#fb)"/>
<rect x="1894.4" y="271.8" width="12.6" height="23" rx="6.3" fill="#409ef6" opacity="0.92" filter="url(#fb)"/>
<rect x="1923.7" y="301.2" width="12.6" height="23" rx="6.3" fill="#409ef6" opacity="0.92" filter="url(#fb)"/>
<rect x="1832.0" y="315.2" width="12.6" height="23" rx="6.3" fill="#409ef6" opacity="0.92" filter="url(#fb)"/>
<rect x="1880.4" y="321.8" width="12.6" height="23" rx="6.3" fill="#409ef6" opacity="0.92" filter="url(#fb)"/>
<rect x="1857.0" y="338.5" width="12.6" height="23" rx="6.3" fill="#409ef6" opacity="0.92" filter="url(#fb)"/>
<rect x="1934.4" y="343.5" width="12.6" height="23" rx="6.3" fill="#409ef6" opacity="0.92" filter="url(#fb)"/>
<rect x="1893.0" y="353.5" width="12.6" height="23" rx="6.3" fill="#409ef6" opacity="0.92" filter="url(#fb)"/>
<rect x="1906.7" y="813.7" width="12.6" height="23" rx="6.3" fill="#409ef6" opacity="0.92" filter="url(#fb)"/>
<rect x="1867.9" y="834.5" width="12.6" height="23" rx="6.3" fill="#409ef6" opacity="0.92" filter="url(#fb)"/>
<rect x="1883.2" y="867.3" width="12.6" height="23" rx="6.3" fill="#409ef6" opacity="0.92" filter="url(#fb)"/>
<rect x="1844.0" y="877.1" width="12.6" height="23" rx="6.3" fill="#409ef6" opacity="0.92" filter="url(#fb)"/>
<rect x="1927.3" y="872.5" width="12.6" height="23" rx="6.3" fill="#409ef6" opacity="0.92" filter="url(#fb)"/>
<rect x="1868.5" y="916.9" width="12.6" height="23" rx="6.3" fill="#409ef6" opacity="0.92" filter="url(#fb)"/>
<rect x="1919.0" y="920.9" width="12.6" height="23" rx="6.3" fill="#409ef6" opacity="0.92" filter="url(#fb)"/>
<rect x="1883.7" y="951.5" width="12.6" height="23" rx="6.3" fill="#409ef6" opacity="0.92" filter="url(#fb)"/>
<rect x="1909.2" y="977.0" width="12.6" height="23" rx="6.3" fill="#409ef6" opacity="0.92" filter="url(#fb)"/>
<rect x="1859.9" y="989.8" width="12.6" height="23" rx="6.3" fill="#409ef6" opacity="0.92" filter="url(#fb)"/>
<rect x="1897.6" y="1028.1" width="12.6" height="23" rx="6.3" fill="#409ef6" opacity="0.92" filter="url(#fb)"/>
<rect x="1883.7" y="1073.1" width="12.6" height="23" rx="6.3" fill="#409ef6" opacity="0.92" filter="url(#fb)"/>
<path d="M1988.4,397.8 L2125.3,253.5" stroke="#000" stroke-width="3.4" fill="none"/>
<circle cx="1988.4" cy="397.8" r="4.8" fill="#000"/>
<path d="M1988.4,414.4 L2125.3,326.0" stroke="#000" stroke-width="3.4" fill="none"/>
<circle cx="1988.4" cy="414.4" r="4.8" fill="#000"/>
<path d="M1988.4,456.3 L2125.3,398.4" stroke="#000" stroke-width="3.4" fill="none"/>
<circle cx="1988.4" cy="456.3" r="4.8" fill="#000"/>
<path d="M1988.4,488.5 L2125.3,470.8" stroke="#000" stroke-width="3.4" fill="none"/>
<circle cx="1988.4" cy="488.5" r="4.8" fill="#000"/>
<path d="M1988.4,519.3 L2125.3,543.5" stroke="#000" stroke-width="3.4" fill="none"/>
<circle cx="1988.4" cy="519.3" r="4.8" fill="#000"/>
<path d="M1988.4,572.0 L2125.3,616.0" stroke="#000" stroke-width="3.4" fill="none"/>
<circle cx="1988.4" cy="572.0" r="4.8" fill="#000"/>
<path d="M1988.4,644.5 L2125.3,688.4" stroke="#000" stroke-width="3.4" fill="none"/>
<circle cx="1988.4" cy="644.5" r="4.8" fill="#000"/>
<path d="M1988.4,717.0 L2125.3,760.8" stroke="#000" stroke-width="3.4" fill="none"/>
<circle cx="1988.4" cy="717.0" r="4.8" fill="#000"/>
<text transform="translate(2151.84,268.00) scale(1.0875,1)" font-family="Liberation Sans, sans-serif" font-size="39.42" font-weight="normal" fill="#000" stroke="#000" stroke-width="0.55" stroke-linejoin="round">Ti/Au front contact</text>
<text transform="translate(2151.38,340.40) scale(1.0240,1)" font-family="Liberation Sans, sans-serif" font-size="39.42" font-weight="normal" fill="#000" stroke="#000" stroke-width="0.55" stroke-linejoin="round">p-GaAs contact</text>
<text transform="translate(2150.37,413.40) scale(1.0227,1)" font-family="Liberation Sans, sans-serif" font-size="39.42" font-weight="normal" fill="#000" stroke="#000" stroke-width="0.55" stroke-linejoin="round">InGaP passivation</text>
<text transform="translate(2150.69,485.30) scale(1.0185,1)" font-family="Liberation Sans, sans-serif" font-size="39.42" font-weight="normal" fill="#000" stroke="#000" stroke-width="0.55" stroke-linejoin="round">GaAs absorber</text>
<text transform="translate(2150.32,558.00) scale(1.0370,1)" font-family="Liberation Sans, sans-serif" font-size="39.42" font-weight="normal" fill="#000" stroke="#000" stroke-width="0.55" stroke-linejoin="round">InAlP passivation</text>
<text transform="translate(2150.62,630.40) scale(1.0718,1)" font-family="Liberation Sans, sans-serif" font-size="39.42" font-weight="normal" fill="#000" stroke="#000" stroke-width="0.55" stroke-linejoin="round">Ni/Ge/Au ring contact</text>
<text transform="translate(2151.38,703.40) scale(1.0240,1)" font-family="Liberation Sans, sans-serif" font-size="39.42" font-weight="normal" fill="#000" stroke="#000" stroke-width="0.55" stroke-linejoin="round">n-GaAs contact</text>
<text transform="translate(2150.77,775.30) scale(1.0226,1)" font-family="Liberation Sans, sans-serif" font-size="39.42" font-weight="normal" fill="#000" stroke="#000" stroke-width="0.55" stroke-linejoin="round">Borosilicate glass</text>
<text transform="translate(1034.34,40.20) scale(1.0576,1)" font-family="DejaVu Sans, sans-serif" font-size="48.50" font-weight="normal" fill="#000" stroke="#000" stroke-width="1.70" stroke-linejoin="round">(c)</text>
<text transform="translate(1543.94,213.30) scale(1.0355,1)" font-family="Liberation Sans, sans-serif" font-size="35.51" font-weight="normal" fill="#000" stroke="#000" stroke-width="0.55" stroke-linejoin="round">1 MeV electrons</text>
<text transform="translate(1097.56,281.70) scale(1.0132,1)" font-family="Liberation Sans, sans-serif" font-size="35.51" font-weight="normal" fill="#000" stroke="#000" stroke-width="0.55" stroke-linejoin="round">500 keV electrons</text>
<text transform="translate(1130.45,335.00) scale(1.0386,1)" font-family="Liberation Sans, sans-serif" font-size="35.51" font-weight="normal" fill="#000" stroke="#000" stroke-width="0.55" stroke-linejoin="round">from cell side</text>
<text transform="translate(1126.47,878.90) scale(0.9998,1)" font-family="Liberation Sans, sans-serif" font-size="35.51" font-weight="normal" fill="#000" stroke="#000" stroke-width="0.55" stroke-linejoin="round">from glass side</text>
<path d="M1794.7,233.3 V277.7" stroke="#000" stroke-width="3" fill="none"/><path d="M1794.7,285.7 L1788.5,274.2 L1800.9,274.2 Z" fill="#000"/>
<path d="M1366.7,303.3 V346.0" stroke="#000" stroke-width="3" fill="none"/><path d="M1366.7,354.0 L1360.5,342.5 L1372.9,342.5 Z" fill="#000"/>
<path d="M1380.4,895.7 V851.6" stroke="#000" stroke-width="3" fill="none"/><path d="M1380.4,843.6 L1374.2,855.1 L1386.6,855.1 Z" fill="#000"/>
<path d="M1818.1,926.3 V882.2" stroke="#000" stroke-width="3" fill="none"/><path d="M1818.1,874.2 L1811.9,885.7 L1824.3,885.7 Z" fill="#000"/>
</svg></body></html>
